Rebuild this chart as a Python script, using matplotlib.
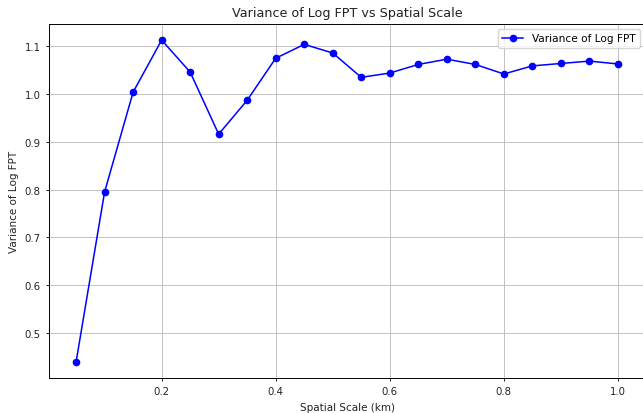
import matplotlib
matplotlib.use('Agg')
import matplotlib.pyplot as plt

# Spatial scales (km) and variance of log first-passage time
scales = [0.05, 0.10, 0.15, 0.20, 0.25, 0.30, 0.35, 0.40, 0.45, 0.50,
          0.55, 0.60, 0.65, 0.70, 0.75, 0.80, 0.85, 0.90, 0.95, 1.00]
var_log_fpt = [0.439, 0.795, 1.004, 1.113, 1.046, 0.916, 0.987, 1.075, 1.104, 1.086,
               1.035, 1.044, 1.062, 1.073, 1.062, 1.042, 1.059, 1.064, 1.069, 1.063]

fig = plt.figure(figsize=(6.43, 4.14), dpi=100)
ax = fig.add_axes([49 / 643, 35 / 414, 596 / 643, 354 / 414])

ax.plot(scales, var_log_fpt, marker='o', color='blue', linewidth=1.1,
        markersize=4.5, label='Variance of Log FPT')

ax.set_title('Variance of Log FPT vs Spatial Scale', fontsize=9.2, color='#222222')
ax.set_xlabel('Spatial Scale (km)', fontsize=7.5, color='#222222')
ax.set_ylabel('Variance of Log FPT', fontsize=7.5, color='#222222')
ax.tick_params(labelsize=7.3, width=0.6, length=2.5, labelcolor='#222222')
for s in ax.spines.values():
    s.set_linewidth(0.7)
ax.grid(True, linewidth=0.6, color='#b8b8b8')
ax.legend(loc='upper right', fontsize=7.6)

plt.savefig('out.png', dpi=100)
